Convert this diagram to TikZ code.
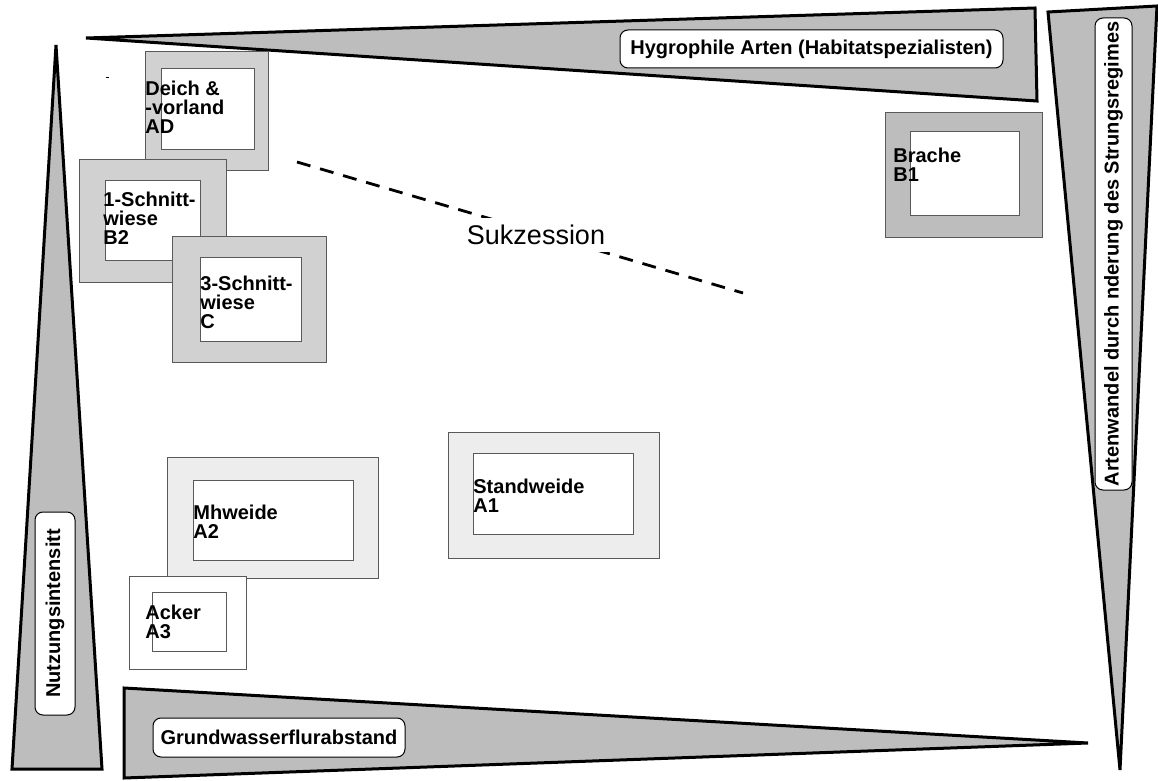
\documentclass[tikz,border=0pt]{standalone}
\usepackage{fontspec}
\setmainfont{Liberation Sans}

\begin{document}
\begin{tikzpicture}[x=0.5pt,y=-0.5pt,
  wedge/.style={draw=black,line width=1.5pt,fill=black!26,line join=miter},
  field/.style={draw=black!65,line width=0.5pt},
  core/.style={draw=black!65,line width=0.5pt,fill=white},
  tag/.style={draw=black,line width=0.5pt,fill=white,rounded corners=4pt,
              font=\fontsize{10}{12}\selectfont\bfseries,inner sep=0pt},
  plotname/.style={anchor=north west,inner sep=0pt,align=left,
              font=\fontsize{10}{9.3}\selectfont\bfseries}]
  \useasboundingbox (0,0) rectangle (1158,781);

  \fill[wedge] (86,38) -- (1035,8) -- (1037,101) -- cycle;
  \node[tag,minimum width=191.5pt,minimum height=19pt] (hygro) at (811.5,49)
    {Hygrophile Arten (Habitatspezialisten)};

  \fill[wedge] (1048,12) -- (1157,6) -- (1120,770) -- cycle;
  \node[tag,rotate=90,minimum width=236pt,minimum height=18.5pt] (arten) at (1113.5,254)
    {Artenwandel durch nderung des Strungsregimes};

  \fill[wedge] (56,45) -- (102,769) -- (12,769) -- cycle;
  \node[tag,rotate=90,minimum width=101.5pt,minimum height=20pt] (nutz) at (55,613.5)
    {Nutzungsintensitt};

  \fill[wedge] (124,688) -- (1088,743) -- (124,778) -- cycle;
  \node[tag,minimum width=126pt,minimum height=19.5pt] (grund) at (279,737.5)
    {Grundwasserflurabstand};

  \draw (106,77) -- (109,77);

  \filldraw[field,fill=black!18] (145,52) rectangle (268,171);
  \filldraw[core] (161,69) rectangle (254,150);
  \node[plotname] (deich) at (145,81) {Deich \&\\-vorland\\AD};

  \filldraw[field,fill=black!18] (79,160) rectangle (226,282);
  \filldraw[core] (105,181) rectangle (200,261);
  \node[plotname] (schnitt1) at (103,192) {1-Schnitt-\\wiese\\B2};

  \filldraw[field,fill=black!18] (172,237) rectangle (326,362);
  \filldraw[core] (200,258) rectangle (301,341);
  \node[plotname] (schnitt3) at (200,276) {3-Schnitt-\\wiese\\C};

  \filldraw[field,fill=black!26] (885,113) rectangle (1042,238);
  \filldraw[core] (910,132) rectangle (1019,216);
  \node[plotname] (brache) at (893,148) {Brache\\B1};

  \filldraw[field,fill=black!7] (448,432) rectangle (659,558);
  \filldraw[core] (473,453) rectangle (633,534);
  \node[plotname] (standw) at (473,479) {Standweide\\A1};

  \filldraw[field,fill=black!7] (167,457) rectangle (378,578);
  \filldraw[core] (193,480) rectangle (353,560);
  \node[plotname] (mahw) at (193,505) {Mhweide\\A2};

  \filldraw[field,fill=white] (129,576) rectangle (246,669);
  \filldraw[core] (152,592) rectangle (226,651);
  \node[plotname] (acker) at (145,605) {Acker\\A3};

  \coordinate (sukA) at (297,162);
  \coordinate (sukB) at (743,293);
  \draw[line width=1.4pt,dash pattern=on 7pt off 5pt] (sukA) -- (sukB);
  \node[fill=white,inner xsep=2pt,minimum height=16.5pt,
        font=\fontsize{13.5}{15}\selectfont] (suk) at (536,235) {Sukzession};
\end{tikzpicture}
\end{document}
